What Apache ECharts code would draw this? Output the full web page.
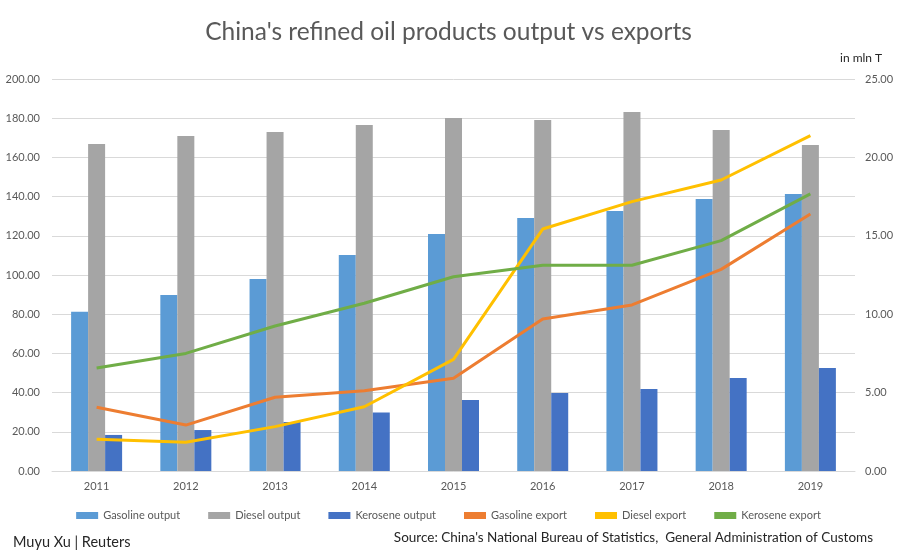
<!DOCTYPE html>
<html>
<head>
<meta charset="utf-8">
<script src="https://cdn.jsdelivr.net/npm/echarts@6/dist/echarts.min.js"></script>
<style>html,body{margin:0;padding:0;background:#fff}#c{width:897px;height:559px}</style>
</head>
<body>
<div id="c"></div>
<script>
const years = ['2011','2012','2013','2014','2015','2016','2017','2018','2019'];
const gasolineOutput = [81.2, 89.8, 98.0, 110.2, 120.9, 129.1, 132.7, 138.8, 141.3];
const dieselOutput = [166.8, 170.9, 173.0, 176.5, 180.1, 179.1, 183.2, 174.0, 166.3];
const keroseneOutput = [18.4, 20.9, 25.0, 29.8, 36.2, 39.8, 41.9, 47.5, 52.6];
const gasolineExport = [4.06, 2.93, 4.70, 5.12, 5.91, 9.69, 10.59, 12.86, 16.39];
const dieselExport = [2.02, 1.83, 2.83, 4.10, 7.12, 15.43, 17.18, 18.56, 21.39];
const keroseneExport = [6.57, 7.50, 9.25, 10.70, 12.39, 13.12, 13.12, 14.69, 17.67];

const font = 'Lato, "Open Sans", sans-serif';
const txt = '#595959';
const chart = echarts.init(document.getElementById('c'));
const barS = (name, data, color) => ({name, type:'bar', data, yAxisIndex:0, barWidth:17, barGap:'0%', itemStyle:{color}});
const lineS = (name, data, color) => ({name, type:'line', data, yAxisIndex:1, symbol:'none', lineStyle:{color, width:3}, itemStyle:{color}});
chart.setOption({
  animation:false,
  textStyle:{fontFamily:font},
  title:{text:"China's refined oil products output vs exports", left:'center', top:15,
    textStyle:{fontFamily:font, fontSize:24.5, fontWeight:'normal', color:txt}},
  grid:{left:52, right:42, top:79, bottom:88},
  legend:{bottom:33, left:'center', itemWidth:22, itemHeight:7, itemGap:28,
    textStyle:{fontSize:11, color:txt, fontFamily:font}, icon:'rect',
    data:['Gasoline output','Diesel output','Kerosene output','Gasoline export','Diesel export','Kerosene export']},
  xAxis:{type:'category', data:years, axisTick:{show:false},
    axisLine:{lineStyle:{color:'#d9d9d9'}}, axisLabel:{color:txt, fontSize:11, margin:10}},
  yAxis:[
    {type:'value', min:0, max:200, interval:20, axisLabel:{color:txt, fontSize:11, formatter:v=>v.toFixed(2), margin:12},
      splitLine:{lineStyle:{color:'#d9d9d9'}}, axisLine:{show:false}, axisTick:{show:false}},
    {type:'value', min:0, max:25, interval:5, position:'right', name:'in mln T', nameLocation:'end', nameGap:15,
      nameTextStyle:{color:'#262626', fontSize:12, align:'left', padding:[0,0,0,-15]},
      axisLabel:{color:txt, fontSize:11, formatter:v=>v.toFixed(2), margin:10},
      splitLine:{show:false}, axisLine:{show:false}, axisTick:{show:false}}
  ],
  series:[
    barS('Gasoline output', gasolineOutput, '#5B9BD5'),
    barS('Diesel output', dieselOutput, '#A5A5A5'),
    barS('Kerosene output', keroseneOutput, '#4472C4'),
    lineS('Gasoline export', gasolineExport, '#ED7D31'),
    lineS('Diesel export', dieselExport, '#FFC000'),
    lineS('Kerosene export', keroseneExport, '#70AD47')
  ],
  graphic:[
    {type:'text', left:13, top:535, style:{text:'Muyu Xu | Reuters', fontSize:14.5, fill:'#262626', fontFamily:font}},
    {type:'text', right:24, top:531, style:{text:"Source: China's National Bureau of Statistics,  General Administration of Customs", fontSize:13.5, fill:'#262626', fontFamily:font}}
  ]
});
</script>
</body>
</html>
